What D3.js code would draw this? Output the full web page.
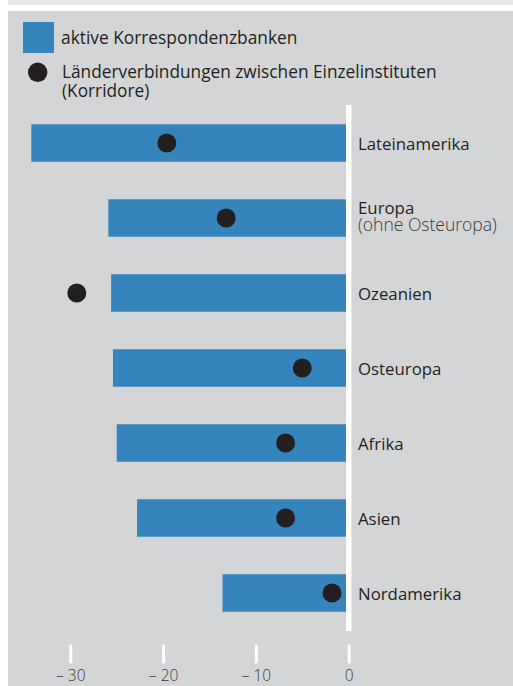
<!DOCTYPE html>
<html><head><meta charset="utf-8">
<script src="https://cdn.jsdelivr.net/npm/d3@7"></script>
<style>
html,body{margin:0;padding:0;background:#fff;}
svg{display:block;font-family:"Open Sans",sans-serif;}
</style></head>
<body>
<svg id="c" width="513" height="686"></svg>
<script>
const categories = ["Lateinamerika","Europa","Ozeanien","Osteuropa","Afrika","Asien","Nordamerika"];
const subLabels = ["","(ohne Osteuropa)","","","","",""];
const barValues = [-34.2,-25.9,-25.6,-25.4,-25.0,-22.8,-13.6];
const dotValues = [-19.6,-13.2,-29.3,-5.0,-6.8,-6.8,-1.8];
const tickValues = [-30,-20,-10,0];
const tickLabels = ["– 30","– 20","– 10","0"];
const legendLabels = ["aktive Korrespondenzbanken","Länderverbindungen zwischen Einzelinstituten","(Korridore)"];

const svg = d3.select("#c");
const W = 513, H = 686;
const blue = "#3584bb", dark = "#231f20", panel = "#d4d5d7";

// fit a group of texts so a reference text gets a target width
function fitSize(sel, refNode, target, base) {
  const w = refNode.getComputedTextLength();
  const fs = base * target / w;
  sel.attr("font-size", fs);
  return fs;
}

svg.append("rect").attr("x",8).attr("y",0).attr("width",W-8).attr("height",5).attr("fill","#e8e8ea");
svg.append("rect").attr("x",8).attr("y",11).attr("width",W-8).attr("height",H-11).attr("fill",panel);

const x = d3.scaleLinear().domain([-30,0]).range([70.3,348.7]);
const y = d3.scaleBand().domain(categories).range([105,631]).paddingInner(0.5).paddingOuter(0.257);

// legend
svg.append("rect").attr("x",23).attr("y",22).attr("width",31).attr("height",31).attr("fill",blue);
const l1 = svg.append("text").attr("x",61).attr("y",44).attr("font-size",16).attr("fill",dark).text(legendLabels[0]);
svg.append("circle").attr("cx",37.7).attr("cy",72.3).attr("r",9.7).attr("fill",dark);
const l2 = svg.append("text").attr("x",62).attr("y",78).attr("font-size",16).attr("fill",dark).text(legendLabels[1]);
const l3 = svg.append("text").attr("x",62).attr("y",97).attr("font-size",16).attr("fill",dark).text(legendLabels[2]);
fitSize(l1, l1.node(), 236.7, 16);
const fs2 = fitSize(l2, l2.node(), 375, 16);
l3.attr("font-size", fs2);

// bars
svg.append("g").selectAll("rect").data(categories).join("rect")
  .attr("x",(d,i)=>x(barValues[i]))
  .attr("y",d=>y(d))
  .attr("width",(d,i)=>x(0)-x(barValues[i]))
  .attr("height",y.bandwidth())
  .attr("fill",blue);

// zero line
svg.append("rect").attr("x",x(0)-2.7).attr("y",105).attr("width",5.5).attr("height",526).attr("fill","#fff");

// dots
svg.append("g").selectAll("circle").data(categories).join("circle")
  .attr("cx",(d,i)=>x(dotValues[i]))
  .attr("cy",d=>y(d)+y.bandwidth()/2)
  .attr("r",9.5)
  .attr("fill",dark);

// labels
const mainLabels = svg.append("g").selectAll("text").data(categories).join("text")
  .attr("x",358)
  .attr("y",(d,i)=>y(d)+y.bandwidth()/2 + (subLabels[i] ? -3.7 : 7.3))
  .attr("font-size",16).attr("fill",dark)
  .text(d=>d);
fitSize(mainLabels, mainLabels.nodes()[0], 111.7, 16);
const sub = svg.append("g").selectAll("text").data(categories.filter((d,i)=>subLabels[i])).join("text")
  .attr("x",358)
  .attr("y",d=>y(d)+y.bandwidth()/2+12.7)
  .attr("font-size",15).attr("fill","#3a3a3a").attr("font-weight",300)
  .text(d=>subLabels[categories.indexOf(d)]);
fitSize(sub, sub.node(), 139, 15);

// axis
const axis = d3.axisBottom(x).tickValues(tickValues).tickSize(18.6).tickFormat((d,i)=>tickLabels[i]);
const ag = svg.append("g").attr("transform","translate(0,644.7)").call(axis);
ag.select(".domain").remove();
ag.selectAll(".tick line").attr("stroke","#fff").attr("stroke-width",3);
ag.selectAll(".tick text").attr("font-family","'Open Sans',sans-serif").attr("font-size",15.5).attr("fill","#3a3a3a").attr("font-weight",300).attr("dy",0).attr("y",36.3);
</script>
</body></html>
